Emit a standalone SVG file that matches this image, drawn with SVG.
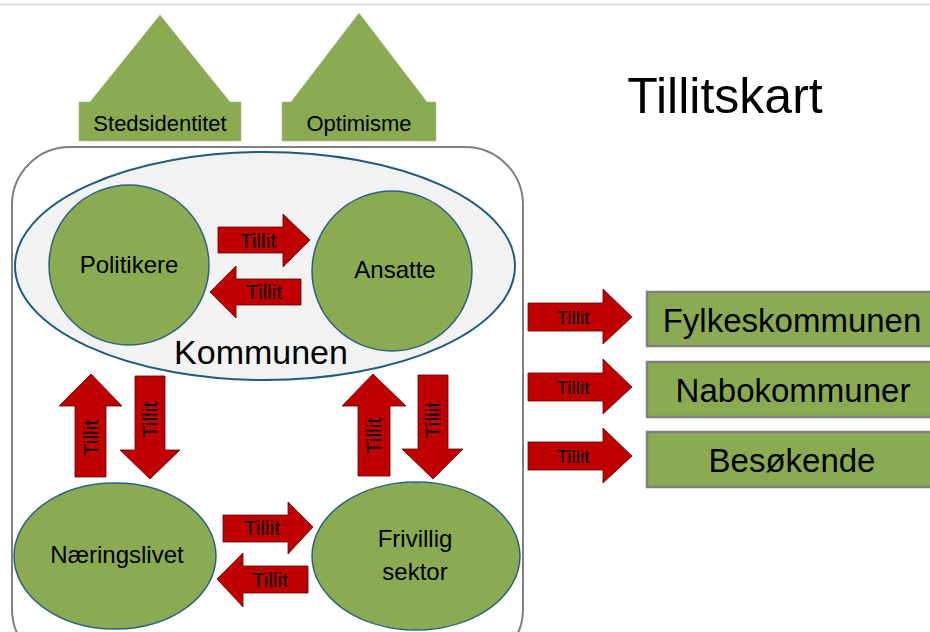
<svg xmlns="http://www.w3.org/2000/svg" width="930" height="632" viewBox="0 0 930 632">
<style>
text{font-family:"Liberation Sans",Arial,sans-serif;fill:#000;text-anchor:middle}
.g{fill:#8bab53}
.node{fill:#8bab53;stroke:#2a6382;stroke-width:1.5}
.arr{fill:#c00000;stroke:#5a0000;stroke-width:0.8}
.box{fill:#8bab53;stroke:#808080;stroke-width:2.5}
.t{font-size:21px}
.ts{font-size:19px}
.n{font-size:24px}
.b{font-size:33px}
</style>
<rect x="0" y="0" width="930" height="632" fill="#fff"/>
<line x1="0" y1="4.5" x2="930" y2="4.5" stroke="#dedede" stroke-width="2"/>

<g id="stedsidentitet">
<polygon class="g" points="160,15 230,102 241,102 241,141 79,141 79,102 90,102" stroke="#a0b880" stroke-width="0.5"/>
<text x="160" y="131" font-size="22">Stedsidentitet</text>
</g>
<g id="optimisme">
<polygon class="g" points="359,13 427,102 436,102 436,141 282,141 282,102 291,102" stroke="#a0b880" stroke-width="0.5"/>
<text x="359" y="131" font-size="22">Optimisme</text>
</g>

<text id="title" x="725" y="113" font-size="50">Tillitskart</text>

<rect id="container" x="12" y="147" width="511" height="520" rx="58" ry="58" fill="none" stroke="#808080" stroke-width="2"/>

<g id="kommunen">
<ellipse cx="265" cy="266" rx="250" ry="114" fill="#f2f2f2" stroke="#1f5c7a" stroke-width="2"/>
<text x="261" y="364" font-size="34">Kommunen</text>
</g>
<g id="politikere">
<circle class="node" cx="129" cy="265" r="80"/>
<text class="n" x="129" y="273">Politikere</text>
</g>
<g id="ansatte">
<circle class="node" cx="392" cy="271" r="80"/>
<text class="n" x="395" y="278">Ansatte</text>
</g>
<g id="naeringslivet">
<ellipse class="node" cx="115" cy="556" rx="101" ry="73"/>
<text class="n" x="117" y="563">Næringslivet</text>
</g>
<g id="frivillig">
<ellipse class="node" cx="416" cy="556" rx="104" ry="74"/>
<text class="n" x="415" y="547">Frivillig</text>
<text class="n" x="415" y="580">sektor</text>
</g>

<g id="fylkeskommunen">
<rect class="box" x="647" y="292" width="290" height="54"/>
<text class="b" x="792" y="332">Fylkeskommunen</text>
</g>
<g id="nabokommuner">
<rect class="box" x="647" y="362" width="290" height="55"/>
<text class="b" x="793" y="402">Nabokommuner</text>
</g>
<g id="besokende">
<rect class="box" x="647" y="432" width="290" height="55"/>
<text class="b" x="792" y="472">Besøkende</text>
</g>

<g id="connectors">
<polygon class="arr" points="218,227 283,227 283,214 310,240 283,267 283,253 218,253"/>
<text class="t" x="258" y="248">Tillit</text>
<polygon class="arr" points="301,279 236,279 236,266 210,292 236,318 236,305 301,305"/>
<text class="t" x="264" y="299">Tillit</text>

<polygon class="arr" points="75,477 75,406 59,406 91,374 122,406 106,406 106,477"/>
<text class="t" transform="translate(91,438) rotate(-90)" y="7">Tillit</text>
<polygon class="arr" points="135,376 165,376 165,450 180,450 150,479 120,450 135,450"/>
<text class="t" transform="translate(150,420) rotate(-90)" y="7">Tillit</text>

<polygon class="arr" points="358,476 358,406 342,406 373,374 406,406 390,406 390,476"/>
<text class="t" transform="translate(374,436) rotate(-90)" y="7">Tillit</text>
<polygon class="arr" points="418,375 448,375 448,449 463,449 433,479 402,449 418,449"/>
<text class="t" transform="translate(433,420) rotate(-90)" y="7">Tillit</text>

<polygon class="arr" points="223,515 288,515 288,502 313,527 288,554 288,542 223,542"/>
<text class="t" x="262" y="535">Tillit</text>
<polygon class="arr" points="308,566 243,566 243,553 217,579 243,607 243,593 308,593"/>
<text class="t" x="270" y="587">Tillit</text>

<polygon class="arr" points="528,303 603,303 603,289 632,317 603,344 603,331 528,331"/>
<text class="ts" x="573" y="324">Tillit</text>
<polygon class="arr" points="528,373 603,373 603,359 632,387 603,414 603,401 528,401"/>
<text class="ts" x="573" y="394">Tillit</text>
<polygon class="arr" points="528,442 603,442 603,428 632,456 603,483 603,470 528,470"/>
<text class="ts" x="573" y="463">Tillit</text>
</g>
</svg>
